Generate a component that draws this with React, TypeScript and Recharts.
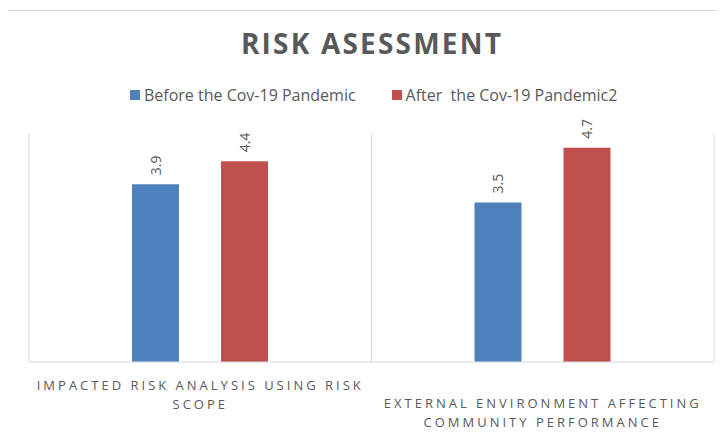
import { BarChart, Bar, XAxis, YAxis, CartesianGrid, LabelList } from 'recharts';

// categories and series
const categories = ['IMPACTED RISK ANALYSIS USING RISK|SCOPE', 'EXTERNAL ENVIRONMENT AFFECTING|COMMUNITY PERFORMANCE'];
const beforeValues = [3.9, 3.5];
const afterValues = [4.4, 4.7];
const seriesNames = ['Before the Cov-19 Pandemic', 'After\u00a0 the Cov-19 Pandemic2'];
const seriesColors = ['#4f81bd', '#c0504d'];

const data = categories.map((c, i) => ({ name: c, before: beforeValues[i], after: afterValues[i] }));

const FONT = '"Open Sans", "Noto Sans", sans-serif';
const GREY = '#595959';

const CategoryTick = (props: any) => {
    const { x, y, payload, index } = props;
    const lines = String(payload.value).split('|');
    // second category sits a line lower, like the original
    const startY = y + (index === 1 ? 38 : 20);
    return (
        <g>
            {lines.map((l: string, k: number) => (
                <text key={k} x={x} y={startY + k * 19} textAnchor="middle" fill={GREY}
                    fontSize={13} letterSpacing={3} fontFamily={FONT}>{l}</text>
            ))}
        </g>
    );
};

const VLabel = (props: any) => {
    const { x, y, width, value } = props;
    const cx = x + width / 2;
    const ty = y - 9;
    return (
        <text x={cx} y={ty} transform={`rotate(-90, ${cx}, ${ty})`} textAnchor="start"
            dominantBaseline="central" fill={GREY} fontSize={14} fontFamily={FONT}>{value}</text>
    );
};

export default function App() {
    return (
        <div style={{ position: 'relative', width: 726, height: 442, margin: -8, background: '#fff', overflow: 'hidden' }}>
            {/* outer chart border */}
            <div style={{ position: 'absolute', left: 7, top: 10, width: 740, height: 460, border: '1px solid #d9d9d9' }} />
            <div style={{
                position: 'absolute', left: 0, top: 24, width: 744, textAlign: 'center',
                fontFamily: FONT, fontSize: 28, fontWeight: 700, letterSpacing: 2.2, color: GREY
            }}>RISK ASESSMENT</div>
            {/* legend */}
            <div style={{
                position: 'absolute', left: 0, top: 84, display: 'flex',
                fontFamily: FONT, fontSize: 16, color: GREY
            }}>
                {seriesNames.map((n, i) => (
                    <div key={n} style={{ display: 'flex', alignItems: 'center', marginLeft: i === 0 ? 130 : 36 }}>
                        <span style={{ width: 10, height: 10, background: seriesColors[i], display: 'inline-block', marginRight: 4 }} />
                        <span>{n}</span>
                    </div>
                ))}
            </div>
            <div style={{ position: 'absolute', left: 0, top: 0 }}>
                <BarChart width={726} height={442} data={data}
                    margin={{ top: 134, left: 29, right: 12, bottom: 20 }}
                    barSize={47} barGap={42} barCategoryGap={103}>
                    <CartesianGrid horizontal={false} stroke="#d9d9d9"
                        verticalCoordinatesGenerator={({ offset }: any) => [offset.left, offset.left + offset.width / 2, offset.left + offset.width]} />
                    <XAxis dataKey="name" height={60} tick={<CategoryTick />} tickLine={false}
                        axisLine={{ stroke: '#d9d9d9' }} interval={0} />
                    <YAxis hide domain={[0, 5]} width={0} />
                    <Bar dataKey="before" name={seriesNames[0]} fill={seriesColors[0]} isAnimationActive={false}>
                        <LabelList dataKey="before" content={<VLabel />} />
                    </Bar>
                    <Bar dataKey="after" name={seriesNames[1]} fill={seriesColors[1]} isAnimationActive={false}>
                        <LabelList dataKey="after" content={<VLabel />} />
                    </Bar>
                </BarChart>
            </div>
        </div>
    );
}
